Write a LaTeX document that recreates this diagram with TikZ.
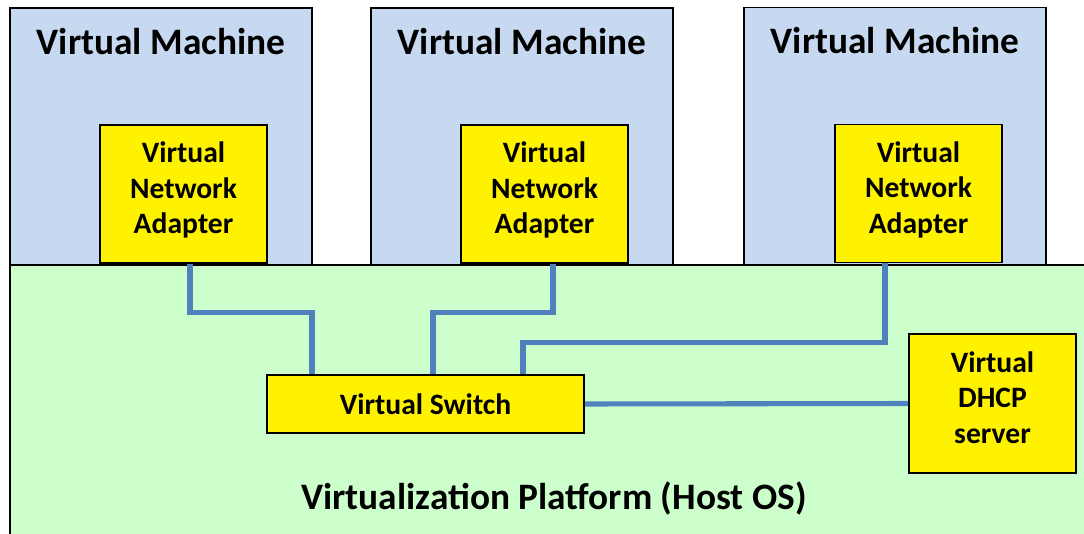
\documentclass[tikz,border=0pt]{standalone}
\usepackage{fontspec}
\setmainfont{Carlito}
\usepackage{tikz}
\usetikzlibrary{positioning,calc}
\definecolor{vmblue}{HTML}{C6D9F0}
\definecolor{hostgreen}{HTML}{CCFFCC}
\definecolor{linkblue}{HTML}{4F81BD}
\tikzset{
  vmbox/.style={draw=black,line width=1.2pt,fill=vmblue,minimum width=226.5pt,minimum height=192.75pt,inner sep=0pt},
  adapterbox/.style={draw=black,line width=1.2pt,fill=yellow,align=center,font=\fontsize{22.2}{26.6}\selectfont\bfseries,minimum width=125.25pt,minimum height=103.5pt,inner sep=0pt},
  vmtitle/.style={font=\fontsize{28}{32}\selectfont\bfseries,inner sep=0pt},
  link/.style={draw=linkblue,line width=3.8pt}
}
\begin{document}
\begin{tikzpicture}[x=0.75pt,y=-0.75pt]
\useasboundingbox (0,0) rectangle (1084,534);
\clip (0,0) rectangle (1084,534);
% host platform
\draw[fill=hostgreen,line width=1.2pt] (10,265) rectangle (1100,550);
\node[font=\fontsize{28}{32}\selectfont\bfseries] (host) at (554,498) {Virtualization Platform (Host OS)};
% virtual machines
\node[vmbox] (vm1) at (161,136.5) {};
\node[vmbox] (vm2) at (522,136.5) {};
\node[vmbox] (vm3) at (895,136) {};
\node[vmtitle] at (161,42) {Virtual Machine};
\node[vmtitle] at (522,42) {Virtual Machine};
\node[vmtitle] at (895,41) {Virtual Machine};
\node[adapterbox,text depth=9pt] (ad1) at (183.5,194) {Virtual\\Network\\Adapter};
\node[adapterbox,text depth=9pt] (ad2) at (544.5,194) {Virtual\\Network\\Adapter};
\node[adapterbox,text depth=9pt] (ad3) at (918.5,193.5) {Virtual\\Network\\Adapter};
% switch and dhcp
\node[adapterbox,minimum width=237.75pt,minimum height=43.5pt] (sw) at (425.5,404) {Virtual Switch};
\node[adapterbox,text depth=9pt,minimum height=104.25pt] (dhcp) at (992.5,403.5) {Virtual\\DHCP\\server};
% links
\draw[link] ($(ad1.south)+(6.5,0)$) -- ++(0,49) -| ($(sw.north)+(-113.5,0)$);
\draw[link] ($(ad2.south)+(8.5,0)$) -- ++(0,49) -| ($(sw.north)+(7.5,0)$);
\draw[link] ($(ad3.south)+(-33.5,0)$) -- ++(0,79) -| ($(sw.north)+(97.5,0)$);
\draw[link] (sw.east) -- (dhcp.west);
\end{tikzpicture}
\end{document}
